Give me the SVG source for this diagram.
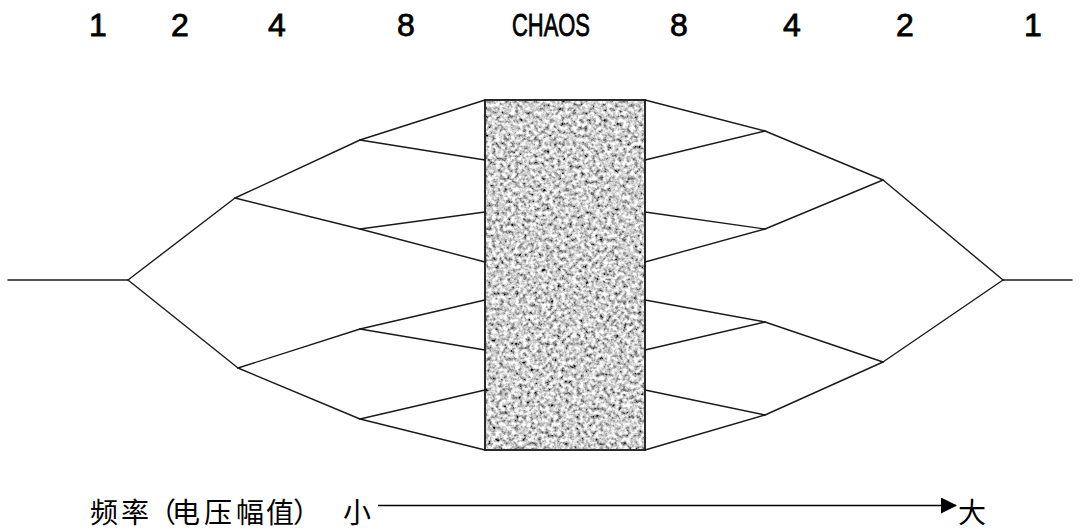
<svg xmlns="http://www.w3.org/2000/svg" width="1080" height="530" viewBox="0 0 1080 530">
  <style>
    .lbl { font-family: "Liberation Sans", Arial, sans-serif; font-size: 32px; fill: #000; stroke: #000; stroke-width: 0.8px; text-anchor: middle; }
    .cjk { font-family: "Noto Sans CJK SC", "Noto Sans CJK JP", sans-serif; font-size: 28px; fill: #000; }
    .ln { stroke: #1a1a1a; stroke-width: 1.4; fill: none; stroke-linecap: round; }
  </style>
  <defs>
    <filter id="noise" x="0" y="0" width="100%" height="100%" filterUnits="objectBoundingBox">
      <feTurbulence type="fractalNoise" baseFrequency="0.26" numOctaves="3" seed="7" result="t"/>
      <feColorMatrix in="t" type="matrix" values="2.0 0 0 0 -0.37  2.0 0 0 0 -0.37  2.0 0 0 0 -0.37  0 0 0 0 1"/>
    </filter>
    <marker id="arrow" viewBox="0 0 16 16" refX="15" refY="8" markerWidth="16" markerHeight="16" markerUnits="userSpaceOnUse" orient="auto">
      <path d="M0,0 L16,8 L0,16 Z" fill="#000"/>
    </marker>
  </defs>
  <rect width="1080" height="530" fill="#fff"/>

  <g id="top-labels">
    <text class="lbl" x="98" y="36">1</text>
    <text class="lbl" x="180" y="36">2</text>
    <text class="lbl" x="277" y="36">4</text>
    <text class="lbl" x="406" y="36">8</text>
    <text class="lbl" x="551" y="36" textLength="78" lengthAdjust="spacingAndGlyphs">CHAOS</text>
    <text class="lbl" x="679" y="36">8</text>
    <text class="lbl" x="792" y="36">4</text>
    <text class="lbl" x="905" y="36">2</text>
    <text class="lbl" x="1033" y="36">1</text>
  </g>

  <g id="chaos">
    <rect x="485" y="100" width="160" height="350" fill="#a8a8a8" filter="url(#noise)"/>
    <rect x="485" y="100" width="160" height="350" fill="none" stroke="#2a2a2a" stroke-width="2"/>
  </g>

  <g id="connectors" class="ln">
    <line x1="8" y1="280" x2="128" y2="280"/>
    <line x1="128" y1="280" x2="235" y2="198"/>
    <line x1="128" y1="280" x2="238" y2="368"/>
    <line x1="235" y1="198" x2="360" y2="140"/>
    <line x1="235" y1="198" x2="360" y2="229"/>
    <line x1="360" y1="140" x2="485" y2="100"/>
    <line x1="360" y1="140" x2="485" y2="160"/>
    <line x1="360" y1="229" x2="485" y2="212"/>
    <line x1="360" y1="229" x2="485" y2="262"/>
    <line x1="238" y1="368" x2="360" y2="329"/>
    <line x1="238" y1="368" x2="360" y2="419"/>
    <line x1="360" y1="329" x2="485" y2="300"/>
    <line x1="360" y1="329" x2="485" y2="350"/>
    <line x1="360" y1="419" x2="485" y2="390"/>
    <line x1="360" y1="419" x2="485" y2="450"/>

    <line x1="645" y1="100" x2="765" y2="131"/>
    <line x1="645" y1="160" x2="765" y2="131"/>
    <line x1="645" y1="212" x2="765" y2="229"/>
    <line x1="645" y1="262" x2="765" y2="229"/>
    <line x1="765" y1="131" x2="883" y2="180"/>
    <line x1="765" y1="229" x2="883" y2="180"/>
    <line x1="883" y1="180" x2="1003" y2="280"/>
    <line x1="645" y1="300" x2="765" y2="322"/>
    <line x1="645" y1="350" x2="765" y2="322"/>
    <line x1="645" y1="390" x2="765" y2="415"/>
    <line x1="645" y1="450" x2="765" y2="415"/>
    <line x1="765" y1="322" x2="883" y2="362"/>
    <line x1="765" y1="415" x2="883" y2="362"/>
    <line x1="883" y1="362" x2="1003" y2="280"/>
    <line x1="1003" y1="280" x2="1072" y2="280"/>
  </g>

  <g id="axis">
    <text class="cjk" x="90 121 148 172 204 236 266 293" y="523">频率（电压幅值）</text>
    <text class="cjk" x="343" y="523">小</text>
    <line x1="378" y1="505.5" x2="956" y2="505.5" stroke="#000" stroke-width="1.6" marker-end="url(#arrow)"/>
    <text class="cjk" x="958" y="523">大</text>
  </g>
</svg>
